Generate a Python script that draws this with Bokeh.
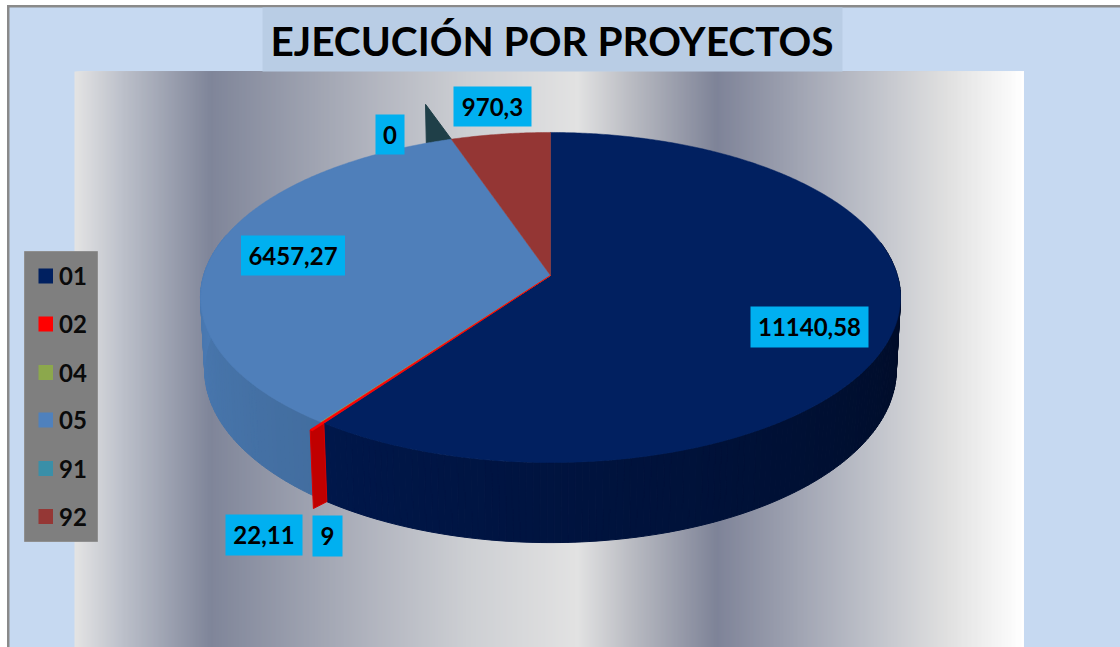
import math
from bokeh.plotting import figure
from bokeh.models import Range1d
from bokeh.core.properties import value
from bokeh.embed import file_html
from bokeh.resources import INLINE

TITLE = "EJECUCIÓN POR PROYECTOS"
CODES = ["01", "02", "04", "05", "91", "92"]
VALUES = [11140.58, 22.11, 9, 6457.27, 0, 970.3]
LABELS = ["11140,58", "22,11", "9", "6457,27", "0", "970,3"]
LEGEND_COLORS = ["#002060", "#FF0000", "#8CA84C", "#4F81BD", "#3A8FA8", "#953735"]
TOP_COLORS = ["#012060", "#FF0000", "#8CA84C", "#4F7FBA", "#1F3F48", "#943634"]

# label box centre and size (page pixels)
LABEL_BOX = {"11140,58": (809, 326.5, 118, 41), "22,11": (263.5, 534.5, 77, 41), "9": (327, 535.5, 30, 41),
             "6457,27": (292.5, 255, 104, 40), "0": (389.5, 134, 29, 40), "970,3": (492, 106, 78, 40)}

GRAD_X = [74, 122, 210, 377, 468, 577, 631, 716, 862, 947, 1023]
GRAD_C = ["#E4E4E4", "#BCC0CA", "#7F8599", "#B3B6C0", "#CDCFD3", "#E2E2E2",
          "#B9BBC2", "#7E8398", "#BBBEC7", "#E0E0E0", "#FFFFFF"]


def rgb(h):
    return tuple(int(h[i:i + 2], 16) for i in (1, 3, 5))


def mix(a, b, t):
    a, b = rgb(a), rgb(b)
    return "#%02X%02X%02X" % tuple(round(a[i] + (b[i] - a[i]) * t) for i in range(3))


def grad(x):
    for i in range(len(GRAD_X) - 1):
        if x <= GRAD_X[i + 1]:
            return mix(GRAD_C[i], GRAD_C[i + 1], (x - GRAD_X[i]) / (GRAD_X[i + 1] - GRAD_X[i]))
    return GRAD_C[-1]


CX, CY, A, B, C, K, M = 550, 275, 346.9, 162.1, 72.6, 0.1333, 0.012


def proj(deg, z=0.0, r=1.0):
    t = math.radians(deg)
    u, v = r * math.sin(t), r * math.cos(t)
    w = 1 + K * v + M * z
    return CX + A * u / w, CY + (-B * v + C * z) / w


total = sum(VALUES)
bounds = [0.0]
for val in VALUES:
    bounds.append(bounds[-1] + val / total * 360)

p = figure(width=1120, height=647, x_range=Range1d(0, 1120), y_range=Range1d(647, 0),
           x_axis_type=None, y_axis_type=None, toolbar_location=None, output_backend="svg",
           min_border=0, outline_line_color=None, background_fill_color="#FFFFFF",
           border_fill_color="#FFFFFF")

# chart area with its grey window border on the left and top
p.quad(left=[6.5], right=[1120], top=[4.5], bottom=[647], fill_color="#8A8A8A", line_color=None)
p.quad(left=[9], right=[1120], top=[7], bottom=[647], fill_color="#C6D9F1", line_color=None)

# plot-area gradient: each strip runs to the right edge and is overpainted by the next,
# so no background shows through at the strip seams
xs = list(range(74, 1023, 2))
p.quad(left=xs, right=[1023] * len(xs), top=[71] * len(xs), bottom=[647] * len(xs),
       fill_color=[grad(x + 1) for x in xs], line_color=None)

# title
p.quad(left=[262], right=[842], top=[7], bottom=[71], fill_color="#B9CDE5", line_color=None)
p.text(x=[551.5], y=[40], text=[TITLE], text_font=value("Lato"), text_font_style="bold",
       text_font_size="40.6px", text_align="center", text_baseline="middle", text_color="#000000")

# side walls, front half only, one strip per degree
wxs, wys, wcs = [], [], []
WALLS = {0: ("#00174A", "#000A22"), 3: ("#4C7DB8", "#426D9F")}
for idx, (c_a, c_b) in WALLS.items():
    lo = max(bounds[idx], 78) if idx == 0 else bounds[idx]
    hi = bounds[idx + 1] if idx == 0 else 285
    n = max(2, int(hi - lo))
    for i in range(n):
        t0, t1 = lo + (hi - lo) * i / n, lo + (hi - lo) * (i + 1) / n
        P = [proj(t0, 0), proj(t1, 0), proj(t1, 1), proj(t0, 1)]
        wxs.append([q[0] for q in P])
        wys.append([q[1] for q in P])
        f = 1 - (i + 0.5) / n
        wcs.append(mix(c_a, c_b, f))
p.patches(xs=wxs, ys=wys, fill_color=wcs, line_color=wcs, line_width=1)

# cut face of the slightly pulled-out thin slice
th = bounds[1]
F = [proj(th, 0), proj(th, 1), proj(th + 0.4, 1, 1.045), proj(th + 0.4, 0, 1.045)]
p.patch([q[0] for q in F], [q[1] for q in F], fill_color="#C00000", line_color="#D80000", line_width=1)

# zero-size slice renders as a small standing sliver
th5 = bounds[5]
S = [proj(th5), proj(th5 - 4.9), proj(th5 - 4.9, -0.584)]
p.patch([q[0] for q in S], [q[1] for q in S], fill_color=TOP_COLORS[4], line_color=TOP_COLORS[4], line_width=1)

# top faces; the two thin slices last, green under red
for i in [0, 3, 5, 2, 1]:
    lo, hi = bounds[i], bounds[i + 1]
    r = 1.045 if i == 1 else 1.0
    n = max(2, int((hi - lo) * 2))
    pts = [(CX, CY)] + [proj(lo + (hi - lo) * j / n, 0, r) for j in range(n + 1)]
    lw = {1: 0.7, 2: 0.4}.get(i, 0.5)
    p.patch([q[0] for q in pts], [q[1] for q in pts], fill_color=TOP_COLORS[i],
            line_color=TOP_COLORS[i], line_width=lw)

# data labels
for lab in LABELS:
    cx, cy, w, h = LABEL_BOX[lab]
    p.quad(left=[cx - w / 2], right=[cx + w / 2], top=[cy - h / 2], bottom=[cy + h / 2],
           fill_color="#00B0F0", line_color=None)
    p.text(x=[cx], y=[cy], text=[lab], text_font=value("Lato"), text_font_style="bold",
           text_font_size="24px", text_align="center", text_baseline="middle", text_color="#000000")

# legend
p.quad(left=[24], right=[97], top=[251], bottom=[541], fill_color="#7F7F7F", line_color="#8F8F8F", line_width=1)
LEG_Y = [275.5, 323.5, 372, 419.5, 468, 516]
p.quad(left=[38] * 6, right=[52.5] * 6, top=[y - 7.5 for y in LEG_Y], bottom=[y + 7.5 for y in LEG_Y],
       fill_color=LEGEND_COLORS, line_color=None)
p.text(x=[58.5] * 6, y=LEG_Y, text=CODES, text_font=value("Lato"), text_font_style="bold",
       text_font_size="24px", text_align="left", text_baseline="middle", text_color="#0A0A0A")

open("out.html", "w").write(file_html(p, INLINE))
